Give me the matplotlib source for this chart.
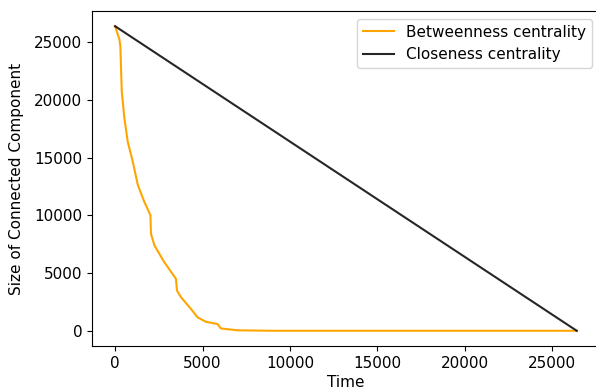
import matplotlib
matplotlib.use("Agg")
import matplotlib.pyplot as plt

## values
n_nodes = 26400

# betweenness attack: time vs size of largest component
betw_time = [0, 245, 300, 380, 530, 720, 1010, 1300, 1670, 2020, 2050, 2250,
             2810, 3480, 3540, 3770, 4340, 4720, 5190, 5860, 6050, 7000, 9000, 26400]
betw_size = [26400, 25260, 24680, 20760, 18440, 16400, 14660, 12630, 11180, 10020,
             8420, 7400, 5950, 4500, 3480, 2900, 1890, 1160, 780, 580, 200, 40, 0, 0]

# closeness attack: straight line down
clos_time = [0, n_nodes]
clos_size = [n_nodes, 0]

plt.rcParams['font.size'] = 11

fig = plt.figure(figsize=(5.96, 3.91), dpi=100)
# right spine falls just outside the picture, like the cropped screenshot
ax = fig.add_axes([0.1544, 0.1151, 0.852, 0.8568])

ax.plot(betw_time, betw_size, color="orange", label="Betweenness centrality")
ax.plot(clos_time, clos_size, color="black", alpha=0.85, label="Closeness centrality")

ax.set_xlabel("Time", labelpad=3)
ax.set_ylabel("Size of Connected Component", labelpad=7)
ax.set_xticks([0, 5000, 10000, 15000, 20000, 25000])
ax.set_yticks([0, 5000, 10000, 15000, 20000, 25000])
ax.legend(loc="upper right")

fig.savefig("out.png", dpi=100)
